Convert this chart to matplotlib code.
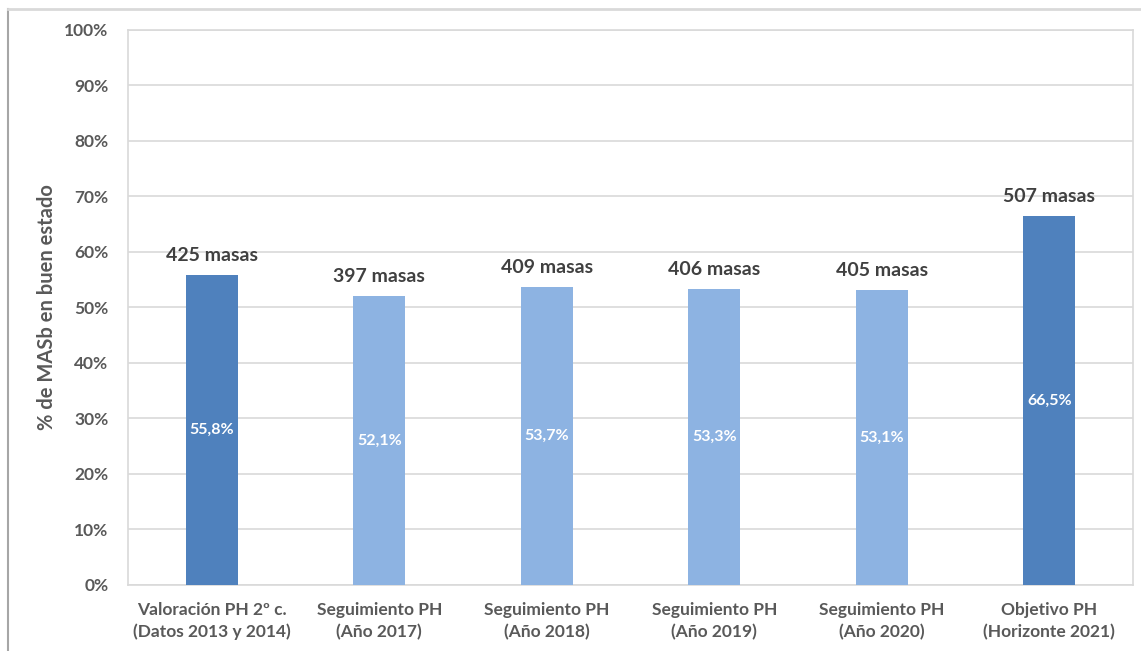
import matplotlib
matplotlib.use("Agg")
import matplotlib.pyplot as plt
from matplotlib.lines import Line2D
from matplotlib.ticker import MultipleLocator, FuncFormatter

categories = ["Valoración PH 2º c.\n(Datos 2013 y 2014)",
              "Seguimiento PH\n(Año 2017)",
              "Seguimiento PH\n(Año 2018)",
              "Seguimiento PH\n(Año 2019)",
              "Seguimiento PH\n(Año 2020)",
              "Objetivo PH\n(Horizonte 2021)"]
pct_values = [55.8, 52.1, 53.7, 53.3, 53.1, 66.5]
n_masas = [425, 397, 409, 406, 405, 507]
is_reference = [True, False, False, False, False, True]

dark_blue = "#4F81BD"
light_blue = "#8DB3E2"
grey_text = "#595959"

plt.rcParams['font.family'] = ['Lato', 'DejaVu Sans']

fig = plt.figure(figsize=(11.41, 6.51), dpi=100)
ax = fig.add_axes([0.1122, 0.1014, 0.8808, 0.8526])

x = list(range(len(categories)))
colors = [dark_blue if r else light_blue for r in is_reference]
bars = ax.bar(x, pct_values, width=0.31, color=colors, zorder=3)

ax.set_xlim(-0.5, len(categories) - 0.5)
ax.set_ylim(0, 100)
ax.yaxis.set_major_locator(MultipleLocator(10))
ax.yaxis.set_major_formatter(FuncFormatter(lambda v, p: f"{v:.0f}%"))
ax.grid(axis='y', color="#D9D9D9", linewidth=1.2, zorder=0)
for s in ax.spines.values():
    s.set_color("#D9D9D9")
    s.set_linewidth(1.2)
ax.tick_params(length=0)
ax.tick_params(axis='y', pad=14)
ax.tick_params(axis='x', pad=12)
ax.set_xticks(x)
ax.set_xticklabels(categories, fontsize=12.5, fontweight='bold', color=grey_text, linespacing=1.45)
for lab in ax.get_yticklabels():
    lab.set_fontsize(12.5)
    lab.set_fontweight('bold')
    lab.set_color(grey_text)

ax.set_ylabel("% de MASb en buen estado", fontsize=14.5, fontweight='bold',
              color=grey_text, labelpad=5)

for b, v, m in zip(bars, pct_values, n_masas):
    cx = b.get_x() + b.get_width() / 2
    ax.text(cx, v / 2, f"{v:.1f}%".replace(".", ","), ha='center', va='center',
            color='white', fontsize=11.5, fontweight='bold', zorder=4)
    ax.annotate(f"{m} masas", (cx, v), xytext=(0, 8), textcoords='offset points',
                ha='center', va='bottom', fontsize=14, fontweight='bold', color="#404040")

# outer chart border
fig.add_artist(Line2D([8 / 1141, 8 / 1141], [0, 1 - 9 / 651], color="#A6A6A6", linewidth=1.5))
fig.add_artist(Line2D([8 / 1141, 1], [1 - 9 / 651, 1 - 9 / 651], color="#D9D9D9", linewidth=2))

fig.savefig("out.png", dpi=100)
